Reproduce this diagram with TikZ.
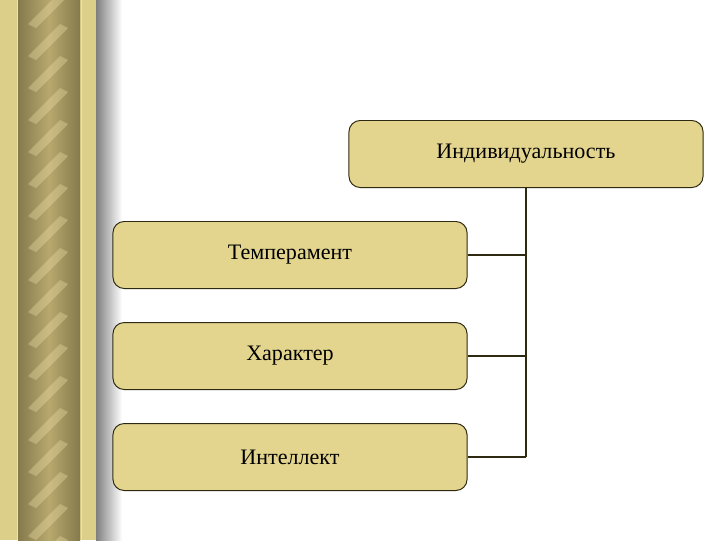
\documentclass[tikz,border=0pt]{standalone}
\usepackage{fontspec}
\setmainfont{Liberation Serif}
\usetikzlibrary{positioning}
\definecolor{boxfill}{HTML}{E3D48E}
\definecolor{boxline}{HTML}{2E2A12}
\definecolor{goldlight}{HTML}{DCCF8A}
\definecolor{golddark}{HTML}{857A4C}
\definecolor{goldmid}{HTML}{B8A86E}
\definecolor{goldpale}{HTML}{EFE2A8}
\begin{document}
\begin{tikzpicture}[x=0.025cm, y=-0.025cm, node distance=0.825cm,
    block/.style={draw=boxline, fill=boxfill, line width=0.7pt, rounded corners=8pt,
      minimum width=8.85cm, minimum height=1.675cm, font=\fontsize{15.7}{18}\selectfont},
    link/.style={draw=boxline, line width=1.4pt}]
  \useasboundingbox (0,0) rectangle (720,540);

  % Column on the left
  \fill[goldlight] (0,0) rectangle (96,540);
  \shade[left color=golddark, right color=golddark, middle color=goldmid] (18,0) rectangle (80,540);
  \begin{scope}
    \clip (24,0) rectangle (72,540);
    \foreach \y in {0,32,...,576}
      \fill[goldpale, opacity=0.35] (28,\y+24) -- (60,\y-8) -- (68,\y-4) -- (36,\y+28) -- cycle;
  \end{scope}
  \draw[goldpale, line width=0.5pt] (17,0) -- (17,540);
  \draw[goldpale, line width=0.5pt] (81,0) -- (81,540);
  \shade[left color=gray, right color=white] (96,0) rectangle (122,540);

  % Nodes
  \node (indiv) [block] at (526,154) {Индивидуальность};
  \node (temper) [block] at (290,255) {Темперамент};
  \node (charac) [block, below=of temper] {Характер};
  \node (intel) [block, below=of charac] {Интеллект};

  % Edges
  \draw[link] (indiv.south) -- (indiv.south |- intel.east);
  \foreach \n in {temper, charac, intel}
    \draw[link] (\n.east) -- (\n.east -| indiv.south);
\end{tikzpicture}
\end{document}
